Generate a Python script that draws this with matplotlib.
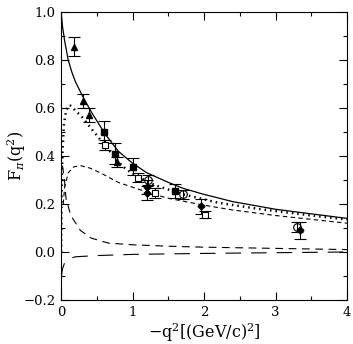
import numpy as np
import matplotlib
matplotlib.use("Agg")
import matplotlib.pyplot as plt

# curves
solid_q2 = [0, 0.02, 0.05, 0.1, 0.15, 0.2, 0.3, 0.43, 0.62, 0.8, 1.0, 1.2, 1.5, 1.71, 2.0, 2.4, 3.0, 3.34, 4.0]
solid_f = [1.0, 0.94, 0.88, 0.8, 0.75, 0.71, 0.65, 0.58, 0.49, 0.42, 0.37, 0.33, 0.29, 0.265, 0.24, 0.21, 0.178, 0.165, 0.14]

dot_q2 = [0, 0.005, 0.01, 0.02, 0.04, 0.07, 0.1, 0.13, 0.2, 0.3, 0.38, 0.57, 0.71, 0.85, 1.0, 1.3, 1.71, 2.2, 2.8, 3.34, 4.0]
dot_f = [0.0, 0.2, 0.3, 0.42, 0.53, 0.59, 0.61, 0.61, 0.59, 0.56, 0.53, 0.46, 0.41, 0.36, 0.325, 0.28, 0.24, 0.205, 0.178, 0.158, 0.135]

sdash_q2 = [0.03, 0.05, 0.1, 0.18, 0.27, 0.4, 0.55, 0.8, 1.1, 1.48, 2.0, 2.4, 3.0, 3.5, 4.0]
sdash_f = [0.2, 0.27, 0.33, 0.355, 0.36, 0.35, 0.33, 0.29, 0.26, 0.225, 0.195, 0.175, 0.152, 0.136, 0.12]

mdash_q2 = [0.02, 0.05, 0.07, 0.14, 0.27, 0.42, 0.66, 1.0, 1.5, 2.0, 3.0, 4.0]
mdash_f = [0.36, 0.29, 0.22, 0.15, 0.09, 0.058, 0.037, 0.03, 0.024, 0.02, 0.015, 0.01]

ldash_q2 = [0.0, 0.02, 0.05, 0.1, 0.2, 0.5, 1.0, 2.0, 3.0, 4.0]
ldash_f = [-0.11, -0.07, -0.045, -0.03, -0.02, -0.015, -0.01, -0.006, -0.003, 0.0]

# data points
tri_q2 = [0.18, 0.3, 0.39, 0.78]
tri_f = [0.855, 0.63, 0.57, 0.375]
tri_err = [0.04, 0.03, 0.03, 0.02]

sq_q2 = [0.6, 0.76, 1.0, 1.6]
sq_f = [0.50, 0.41, 0.355, 0.255]
sq_err = [0.045, 0.045, 0.035, 0.03]

osq_q2 = [0.62, 1.07, 1.31, 2.01]
osq_f = [0.445, 0.31, 0.245, 0.155]
osq_err = [0.02, 0.02, 0.02, 0.015]

oc_q2 = [1.22, 1.71, 3.3]
oc_f = [0.30, 0.24, 0.105]
oc_err = [0.02, 0.02, 0.02]

dia_q2 = [1.2, 1.2, 1.96, 3.34]
dia_f = [0.27, 0.245, 0.19, 0.09]
dia_err = [0.03, 0.03, 0.03, 0.035]

plt.rcParams['font.family'] = ['DejaVu Serif']
plt.rcParams['mathtext.fontset'] = 'dejavuserif'

fig = plt.figure(figsize=(3.53, 3.44), dpi=100)
ax = fig.add_axes([0.173, 0.128, 0.81, 0.837])

ax.plot(solid_q2, solid_f, color='black', lw=0.9)
ax.plot(dot_q2, dot_f, color='black', lw=1.8, linestyle=(0, (0.6, 1.6)))
ax.plot(sdash_q2, sdash_f, color='black', lw=0.8, linestyle=(0, (4, 3)))
ax.plot(mdash_q2, mdash_f, color='black', lw=0.8, linestyle=(0, (7, 5)))
ax.plot(ldash_q2, ldash_f, color='black', lw=0.8, linestyle=(0, (14, 9)))

eb = dict(color='black', ecolor='black', elinewidth=0.8, capsize=4, capthick=0.8, linestyle='none')
ax.errorbar(tri_q2, tri_f, yerr=tri_err, marker='^', ms=4.5, mfc='black', **eb)
ax.errorbar(sq_q2, sq_f, yerr=sq_err, marker='s', ms=4.5, mfc='black', **eb)
ax.errorbar(osq_q2, osq_f, yerr=osq_err, marker='s', ms=4.5, mfc='white', mew=0.8, **eb)
ax.errorbar(oc_q2, oc_f, yerr=oc_err, marker='o', ms=5.5, mfc='none', mew=0.8, **eb)
ax.errorbar(dia_q2, dia_f, yerr=dia_err, marker='D', ms=3.5, mfc='black', **eb)

ax.set_xlim(0, 4)
ax.set_ylim(-0.2, 1.0)
ax.set_xticks([0, 1, 2, 3, 4])
ax.set_xticks(np.arange(0, 4.01, 0.5), minor=True)
ax.set_yticks(np.arange(-0.2, 1.01, 0.2))
ax.set_yticks(np.arange(-0.2, 1.01, 0.1), minor=True)
ax.set_yticklabels(['\u22120.2', '0.0', '0.2', '0.4', '0.6', '0.8', '1.0'])
ax.tick_params(which='both', direction='in', top=True, right=True, labelsize=9.5)
ax.tick_params(which='major', length=6, width=0.8, pad=4)
ax.tick_params(which='minor', length=3, width=0.8)
for s in ax.spines.values():
    s.set_linewidth(0.8)

ax.set_xlabel(r'$-$q$^2$[(GeV/c)$^2$]', fontsize=11.5)
ax.set_ylabel(r'F$_\pi$(q$^2$)', fontsize=11.5)
ax.xaxis.set_label_coords(0.5, -0.075, transform=ax.transAxes)
ax.yaxis.set_label_coords(-0.115, 0.5, transform=ax.transAxes)

fig.savefig('out.png', dpi=100)
